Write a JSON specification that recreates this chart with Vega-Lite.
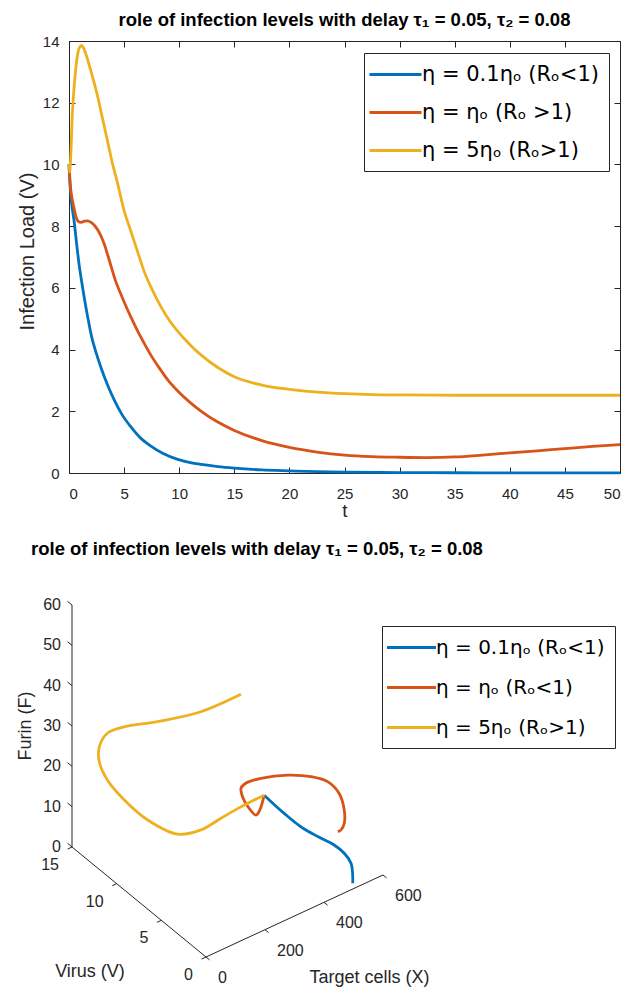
{
  "$schema": "https://vega.github.io/schema/vega-lite/v6.json",
  "background": "white",
  "padding": {"left": 16, "top": 10, "right": 5, "bottom": 0},
  "config": {
    "font": "Liberation Sans",
    "view": {"stroke": null},
    "axis": {"grid": false, "domain": false, "labelFont": "Liberation Sans", "titleFont": "Liberation Sans", "labelColor": "#262626", "titleColor": "#262626", "tickColor": "#262626", "tickWidth": 1, "titleFontWeight": "normal"},
    "title": {"font": "Liberation Sans", "fontSize": 18.5, "fontWeight": "bold", "color": "black"},
    "legend": {"labelFont": "DejaVu Sans"}
  },
  "datasets": {
    "top": [
      {"s":"a","t":0,"V":10},{"s":"a","t":0.1,"V":9.3},{"s":"a","t":0.25,"V":8.7},{"s":"a","t":0.45,"V":8.2},{"s":"a","t":0.7,"V":7.4},{"s":"a","t":0.9,"V":6.8},{"s":"a","t":1.15,"V":6.2},{"s":"a","t":1.4,"V":5.65},{"s":"a","t":1.7,"V":5.05},{"s":"a","t":2.0,"V":4.5},{"s":"a","t":2.5,"V":3.85},{"s":"a","t":2.9,"V":3.42},{"s":"a","t":3.5,"V":2.85},{"s":"a","t":4.1,"V":2.37},{"s":"a","t":4.8,"V":1.9},{"s":"a","t":5.6,"V":1.5},{"s":"a","t":6.5,"V":1.13},{"s":"a","t":7.4,"V":0.88},{"s":"a","t":8.5,"V":0.64},{"s":"a","t":9.8,"V":0.45},{"s":"a","t":11,"V":0.34},{"s":"a","t":12,"V":0.28},{"s":"a","t":13.5,"V":0.21},{"s":"a","t":15,"V":0.16},{"s":"a","t":17.5,"V":0.1},{"s":"a","t":20,"V":0.07},{"s":"a","t":22.5,"V":0.045},{"s":"a","t":25,"V":0.03},{"s":"a","t":30,"V":0.015},{"s":"a","t":35,"V":0.008},{"s":"a","t":40,"V":0.005},{"s":"a","t":45,"V":0.003},{"s":"a","t":50,"V":0.002},
      {"s":"b","t":0,"V":10},{"s":"b","t":0.1,"V":9.4},{"s":"b","t":0.25,"V":8.95},{"s":"b","t":0.45,"V":8.6},{"s":"b","t":0.65,"V":8.28},{"s":"b","t":0.85,"V":8.15},{"s":"b","t":1.1,"V":8.12},{"s":"b","t":1.4,"V":8.16},{"s":"b","t":1.7,"V":8.17},{"s":"b","t":2.0,"V":8.12},{"s":"b","t":2.3,"V":8.03},{"s":"b","t":2.6,"V":7.88},{"s":"b","t":2.9,"V":7.68},{"s":"b","t":3.2,"V":7.42},{"s":"b","t":3.5,"V":7.08},{"s":"b","t":3.8,"V":6.72},{"s":"b","t":4.2,"V":6.25},{"s":"b","t":4.7,"V":5.8},{"s":"b","t":5.2,"V":5.38},{"s":"b","t":5.6,"V":5.07},{"s":"b","t":6.2,"V":4.62},{"s":"b","t":6.8,"V":4.22},{"s":"b","t":7.5,"V":3.78},{"s":"b","t":8.3,"V":3.35},{"s":"b","t":9.0,"V":3.0},{"s":"b","t":9.8,"V":2.68},{"s":"b","t":11,"V":2.28},{"s":"b","t":12,"V":2.0},{"s":"b","t":13.5,"V":1.65},{"s":"b","t":15,"V":1.38},{"s":"b","t":17.5,"V":1.05},{"s":"b","t":20,"V":0.83},{"s":"b","t":22.5,"V":0.68},{"s":"b","t":25,"V":0.58},{"s":"b","t":27.5,"V":0.53},{"s":"b","t":30,"V":0.51},{"s":"b","t":32.5,"V":0.5},{"s":"b","t":35,"V":0.52},{"s":"b","t":37.5,"V":0.58},{"s":"b","t":40,"V":0.65},{"s":"b","t":42.5,"V":0.72},{"s":"b","t":45,"V":0.79},{"s":"b","t":47.5,"V":0.86},{"s":"b","t":50,"V":0.92},
      {"s":"c","t":0,"V":10},{"s":"c","t":0.06,"V":9.75},{"s":"c","t":0.15,"V":10.2},{"s":"c","t":0.3,"V":11.6},{"s":"c","t":0.45,"V":12.45},{"s":"c","t":0.6,"V":13.05},{"s":"c","t":0.8,"V":13.6},{"s":"c","t":1.0,"V":13.82},{"s":"c","t":1.15,"V":13.86},{"s":"c","t":1.35,"V":13.75},{"s":"c","t":1.6,"V":13.5},{"s":"c","t":1.85,"V":13.2},{"s":"c","t":2.2,"V":12.75},{"s":"c","t":2.6,"V":12.2},{"s":"c","t":3.0,"V":11.55},{"s":"c","t":3.5,"V":10.75},{"s":"c","t":4.0,"V":9.95},{"s":"c","t":4.4,"V":9.4},{"s":"c","t":5.0,"V":8.5},{"s":"c","t":5.6,"V":7.85},{"s":"c","t":6.2,"V":7.2},{"s":"c","t":6.8,"V":6.55},{"s":"c","t":7.6,"V":5.9},{"s":"c","t":8.4,"V":5.35},{"s":"c","t":9.1,"V":4.95},{"s":"c","t":9.8,"V":4.62},{"s":"c","t":11,"V":4.15},{"s":"c","t":12,"V":3.82},{"s":"c","t":13.5,"V":3.42},{"s":"c","t":15,"V":3.12},{"s":"c","t":17.5,"V":2.85},{"s":"c","t":20,"V":2.71},{"s":"c","t":22.5,"V":2.62},{"s":"c","t":25,"V":2.57},{"s":"c","t":27.5,"V":2.54},{"s":"c","t":30,"V":2.53},{"s":"c","t":35,"V":2.52},{"s":"c","t":40,"V":2.52},{"s":"c","t":45,"V":2.52},{"s":"c","t":50,"V":2.52}
    ],
    "traj": [
      {"s":"a","o":0,"X":500,"V":10,"F":5},{"s":"a","o":1,"X":492,"V":7.5,"F":5.3},{"s":"a","o":2,"X":488,"V":5.5,"F":5.75},{"s":"a","o":3,"X":494,"V":3.8,"F":6.2},{"s":"a","o":4,"X":501,"V":2.2,"F":6.8},{"s":"a","o":5,"X":499,"V":1.0,"F":7.0},{"s":"a","o":6,"X":504,"V":0.4,"F":5.4},{"s":"a","o":7,"X":500,"V":0.1,"F":3.6},{"s":"a","o":8,"X":499,"V":0.05,"F":1.3},
      {"s":"b","o":0,"X":500,"V":10,"F":5},{"s":"b","o":1,"X":464,"V":9.3,"F":3.8},{"s":"b","o":2,"X":436,"V":8.8,"F":4.4},{"s":"b","o":3,"X":397,"V":8.4,"F":8.5},{"s":"b","o":4,"X":369,"V":8.1,"F":12.5},{"s":"b","o":5,"X":361,"V":8,"F":15.1},{"s":"b","o":6,"X":363,"V":7.5,"F":17.2},{"s":"b","o":7,"X":383,"V":6.5,"F":19.5},{"s":"b","o":8,"X":428,"V":5,"F":21.5},{"s":"b","o":9,"X":462,"V":3.5,"F":22.7},{"s":"b","o":10,"X":488,"V":2.5,"F":22.4},{"s":"b","o":11,"X":503,"V":1.7,"F":20.4},{"s":"b","o":12,"X":505,"V":1.2,"F":17.1},{"s":"b","o":13,"X":493,"V":0.8,"F":15.0},{"s":"b","o":14,"X":476,"V":0.6,"F":14.3},{"s":"b","o":15,"X":474,"V":0.9,"F":13.4},
      {"s":"c","o":0,"X":500,"V":10,"F":5},{"s":"c","o":1,"X":445,"V":10.8,"F":2.5},{"s":"c","o":2,"X":384,"V":11,"F":1.4},{"s":"c","o":3,"X":316,"V":11,"F":0.8},{"s":"c","o":4,"X":252,"V":11.5,"F":1.0},{"s":"c","o":5,"X":181,"V":12.5,"F":5.1},{"s":"c","o":6,"X":126,"V":13.3,"F":10.5},{"s":"c","o":7,"X":84,"V":13.8,"F":15.9},{"s":"c","o":8,"X":50,"V":13.6,"F":22},{"s":"c","o":9,"X":32,"V":13,"F":27.4},{"s":"c","o":10,"X":30,"V":12,"F":32.7},{"s":"c","o":11,"X":41,"V":10.5,"F":36.6},{"s":"c","o":12,"X":63,"V":7.5,"F":42.6},{"s":"c","o":13,"X":119,"V":4.5,"F":48.6},{"s":"c","o":14,"X":194,"V":2.5,"F":54}
    ]
  },
  "bounds": "flush",
  "spacing": 107,
  "resolve": {"scale": {"color": "independent"}, "legend": {"color": "independent"}},
  "vconcat": [
    {
      "width": 551,
      "height": 432,
      "title": {"text": "role of infection levels with delay τ₁ = 0.05, τ₂ = 0.08", "anchor": "middle", "offset": -10, "baseline": "alphabetic"},
      "view": {"stroke": "#262626", "strokeWidth": 1},
      "data": {"name": "top"},
      "mark": {"type": "line", "interpolate": "monotone", "strokeWidth": 2.8},
      "encoding": {
        "x": {"field": "t", "type": "quantitative", "scale": {"domain": [0, 50], "nice": false}, "axis": {"values": [0,5,10,15,20,25,30,35,40,45,50], "title": "t", "ticks": false, "grid": true, "gridColor": "#262626", "gridOpacity": 1, "gridWidth": 1, "gridDash": [6, 420, 6, 2000], "labelPadding": 13, "titlePadding": 0, "titleFontSize": 19, "labelFontSize": 15}},
        "y": {"field": "V", "type": "quantitative", "scale": {"domain": [0, 14], "nice": false}, "axis": {"values": [0,2,4,6,8,10,12,14], "title": "Infection Load (V)", "ticks": false, "grid": true, "gridColor": "#262626", "gridOpacity": 1, "gridWidth": 1, "gridDash": [6, 539, 6, 2000], "labelPadding": 10, "titleX": -42, "titleY": 210, "titleAngle": 270, "titleAlign": "center", "titleBaseline": "middle", "titleFontSize": 20, "labelFontSize": 15}},
        "color": {"field": "s", "type": "nominal", "scale": {"domain": ["a", "b", "c"], "range": ["#0072BD", "#D95319", "#EDB120"]},
          "legend": {"orient": "none", "legendX": 295, "legendY": 12, "title": null,
            "labelExpr": "datum.value == 'a' ? 'η = 0.1ηₒ (Rₒ<1)' : datum.value == 'b' ? 'η = ηₒ (Rₒ >1)' : 'η = 5ηₒ (Rₒ>1)'",
            "symbolType": "M-2.6,0H2.6", "symbolSize": 400, "symbolStrokeWidth": 3, "symbolOffset": 10, "labelOffset": 15,
            "labelFontSize": 21, "labelColor": "black", "rowPadding": 16, "padding": 10, "strokeColor": "#262626", "fillColor": "white", "labelLimit": 400}}
      }
    },
    {
      "width": 552,
      "height": 410,
      "title": {"text": "role of infection levels with delay τ₁ = 0.05, τ₂ = 0.08", "anchor": "start", "frame": "group", "dx": -38, "offset": 7, "baseline": "alphabetic"},
      "view": {"stroke": null},
      "encoding": {
        "x": {"field": "sx", "type": "quantitative", "scale": {"domain": [68, 620], "nice": false, "zero": false}, "axis": null},
        "y": {"field": "sy", "type": "quantitative", "scale": {"domain": [580, 990], "nice": false, "zero": false, "reverse": true}, "axis": null}
      },
      "layer": [
        {
          "data": {"values": [
            {"X":0,"V":15,"F":0,"X2":0,"V2":15,"F2":60},
            {"X":0,"V":0,"F":0,"X2":0,"V2":15,"F2":0},
            {"X":0,"V":0,"F":0,"X2":600,"V2":0,"F2":0},
            {"X":0,"V":15,"F":0,"X2":0,"V2":15.5,"F2":0},{"X":0,"V":15,"F":10,"X2":0,"V2":15.5,"F2":10},{"X":0,"V":15,"F":20,"X2":0,"V2":15.5,"F2":20},{"X":0,"V":15,"F":30,"X2":0,"V2":15.5,"F2":30},{"X":0,"V":15,"F":40,"X2":0,"V2":15.5,"F2":40},{"X":0,"V":15,"F":50,"X2":0,"V2":15.5,"F2":50},{"X":0,"V":15,"F":60,"X2":0,"V2":15.5,"F2":60},
            {"X":0,"V":0,"F":0,"X2":-15,"V2":0,"F2":0},{"X":0,"V":5,"F":0,"X2":-15,"V2":5,"F2":0},{"X":0,"V":10,"F":0,"X2":-15,"V2":10,"F2":0},{"X":0,"V":15,"F":0,"X2":-15,"V2":15,"F2":0},
            {"X":0,"V":0,"F":0,"X2":0,"V2":-0.4,"F2":0},{"X":200,"V":0,"F":0,"X2":200,"V2":-0.4,"F2":0},{"X":400,"V":0,"F":0,"X2":400,"V2":-0.4,"F2":0},{"X":600,"V":0,"F":0,"X2":600,"V2":-0.4,"F2":0}
          ]},
          "transform": [
            {"calculate": "205 + 0.295*datum.X - 8.933*datum.V", "as": "sx"},
            {"calculate": "957 - 0.1367*datum.X - 7.333*datum.V - 4.033*datum.F", "as": "sy"},
            {"calculate": "205 + 0.295*datum.X2 - 8.933*datum.V2", "as": "sx2"},
            {"calculate": "957 - 0.1367*datum.X2 - 7.333*datum.V2 - 4.033*datum.F2", "as": "sy2"}
          ],
          "mark": {"type": "rule", "color": "#262626", "strokeWidth": 1},
          "encoding": {"x2": {"field": "sx2"}, "y2": {"field": "sy2"}}
        },
        {
          "data": {"values": [
            {"X":0,"V":15,"F":0,"lab":"0"},{"X":0,"V":15,"F":10,"lab":"10"},{"X":0,"V":15,"F":20,"lab":"20"},{"X":0,"V":15,"F":30,"lab":"30"},{"X":0,"V":15,"F":40,"lab":"40"},{"X":0,"V":15,"F":50,"lab":"50"},{"X":0,"V":15,"F":60,"lab":"60"}
          ]},
          "transform": [
            {"calculate": "205 + 0.295*datum.X - 8.933*datum.V", "as": "sx"},
            {"calculate": "957 - 0.1367*datum.X - 7.333*datum.V - 4.033*datum.F", "as": "sy"}
          ],
          "mark": {"type": "text", "align": "right", "baseline": "middle", "dx": -11, "fontSize": 16, "color": "#262626", "font": "Liberation Sans"},
          "encoding": {"text": {"field": "lab"}}
        },
        {
          "data": {"values": [
            {"X":0,"V":0,"F":0,"lab":"0"},{"X":0,"V":5,"F":0,"lab":"5"},{"X":0,"V":10,"F":0,"lab":"10"},{"X":0,"V":15,"F":0,"lab":"15"}
          ]},
          "transform": [
            {"calculate": "205 + 0.295*datum.X - 8.933*datum.V", "as": "sx"},
            {"calculate": "957 - 0.1367*datum.X - 7.333*datum.V - 4.033*datum.F", "as": "sy"}
          ],
          "mark": {"type": "text", "align": "right", "baseline": "middle", "dx": -13, "dy": 18, "fontSize": 16, "color": "#262626", "font": "Liberation Sans"},
          "encoding": {"text": {"field": "lab"}}
        },
        {
          "data": {"values": [
            {"X":0,"V":0,"F":0,"lab":"0"},{"X":200,"V":0,"F":0,"lab":"200"},{"X":400,"V":0,"F":0,"lab":"400"},{"X":600,"V":0,"F":0,"lab":"600"}
          ]},
          "transform": [
            {"calculate": "205 + 0.295*datum.X - 8.933*datum.V", "as": "sx"},
            {"calculate": "957 - 0.1367*datum.X - 7.333*datum.V - 4.033*datum.F", "as": "sy"}
          ],
          "mark": {"type": "text", "align": "left", "baseline": "middle", "dx": 12, "dy": 21, "fontSize": 16, "color": "#262626", "font": "Liberation Sans"},
          "encoding": {"text": {"field": "lab"}}
        },
        {
          "data": {"values": [{"X":0,"V":15,"F":30,"lab":"Furin (F)"}]},
          "transform": [
            {"calculate": "205 + 0.295*datum.X - 8.933*datum.V", "as": "sx"},
            {"calculate": "957 - 0.1367*datum.X - 7.333*datum.V - 4.033*datum.F", "as": "sy"}
          ],
          "mark": {"type": "text", "align": "center", "baseline": "middle", "angle": 270, "dy": -46, "fontSize": 18, "color": "#262626", "font": "Liberation Sans"},
          "encoding": {"text": {"field": "lab"}}
        },
        {
          "data": {"values": [{"X":0,"V":7.5,"F":0,"lab":"Virus (V)"}]},
          "transform": [
            {"calculate": "205 + 0.295*datum.X - 8.933*datum.V", "as": "sx"},
            {"calculate": "957 - 0.1367*datum.X - 7.333*datum.V - 4.033*datum.F", "as": "sy"}
          ],
          "mark": {"type": "text", "align": "center", "baseline": "middle", "dx": -49, "dy": 70, "fontSize": 18, "color": "#262626", "font": "Liberation Sans"},
          "encoding": {"text": {"field": "lab"}}
        },
        {
          "data": {"values": [{"X":300,"V":0,"F":0,"lab":"Target cells (X)"}]},
          "transform": [
            {"calculate": "205 + 0.295*datum.X - 8.933*datum.V", "as": "sx"},
            {"calculate": "957 - 0.1367*datum.X - 7.333*datum.V - 4.033*datum.F", "as": "sy"}
          ],
          "mark": {"type": "text", "align": "center", "baseline": "middle", "dx": 75, "dy": 62, "fontSize": 18, "color": "#262626", "font": "Liberation Sans"},
          "encoding": {"text": {"field": "lab"}}
        },
        {
          "data": {"name": "traj"},
          "transform": [
            {"calculate": "205 + 0.295*datum.X - 8.933*datum.V", "as": "sx"},
            {"calculate": "957 - 0.1367*datum.X - 7.333*datum.V - 4.033*datum.F", "as": "sy"}
          ],
          "mark": {"type": "line", "interpolate": "catmull-rom", "strokeWidth": 2.8},
          "encoding": {
            "order": {"field": "o", "type": "quantitative"},
            "color": {"field": "s", "type": "nominal", "scale": {"domain": ["a", "b", "c"], "range": ["#0072BD", "#D95319", "#EDB120"]},
              "legend": {"orient": "none", "legendX": 313, "legendY": 46, "title": null,
                "labelExpr": "datum.value == 'a' ? 'η = 0.1ηₒ (Rₒ<1)' : datum.value == 'b' ? 'η = ηₒ (Rₒ<1)' : 'η = 5ηₒ (Rₒ>1)'",
                "symbolType": "M-2.45,0H2.45", "symbolSize": 400, "symbolStrokeWidth": 3, "symbolOffset": 8, "labelOffset": 13,
                "labelFontSize": 20, "labelColor": "black", "rowPadding": 18, "padding": 10, "strokeColor": "#262626", "fillColor": "white", "labelLimit": 400}}
          }
        }
      ]
    }
  ]
}
